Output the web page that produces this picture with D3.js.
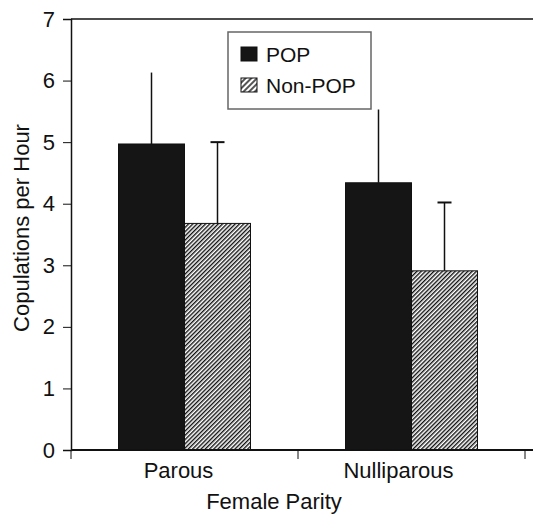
<!DOCTYPE html>
<html>
<head>
<meta charset="utf-8">
<script src="https://cdn.jsdelivr.net/npm/d3@7"></script>
<style>
  body { margin: 0; background: #fff; }
  svg { display: block; font-family: Arial, "Liberation Sans", sans-serif; }
</style>
</head>
<body>
<div class="chart"></div>
<script>
// data
var categories = ["Parous", "Nulliparous"];
var series = ["POP", "Non-POP"];
var means = [[4.97, 3.68], [4.34, 2.91]];
var errors = [[1.16, 1.32], [1.19, 1.11]];
var yTicks = [0, 1, 2, 3, 4, 5, 6, 7];

var w = 533;
var h = 515;

const svg = d3.select(".chart")
  .append("svg")
  .attr("width", w)
  .attr("height", h);

// hatch pattern for Non-POP
var defs = svg.append("defs");
defs.append("pattern")
  .attr("id", "hatch")
  .attr("patternUnits", "userSpaceOnUse")
  .attr("width", 3)
  .attr("height", 3)
  .attr("patternTransform", "rotate(45)")
  .append("rect")
  .attr("width", 1.4)
  .attr("height", 3)
  .attr("fill", "#111");
defs.append("pattern")
  .attr("id", "hatchLegend")
  .attr("patternUnits", "userSpaceOnUse")
  .attr("width", 4)
  .attr("height", 4)
  .attr("patternTransform", "rotate(45)")
  .append("rect")
  .attr("width", 2)
  .attr("height", 4)
  .attr("fill", "#555");

var x0 = d3.scaleBand()
  .domain(categories)
  .range([71, 525])
  .padding(0);

var x1 = d3.scaleBand()
  .domain(series)
  .range([47.5, 179.5])
  .padding(0);

var y = d3.scaleLinear()
  .domain([0, 7])
  .range([450, 19]);

var fills = { "POP": "#151515", "Non-POP": "url(#hatch)" };

// rows for bars
var rows = [];
categories.forEach(function(c, i) {
  series.forEach(function(s, j) {
    rows.push({ cat: c, ser: s, val: means[i][j], err: errors[i][j] });
  });
});

// top frame line
svg.append("line")
  .attr("x1", 71).attr("x2", w)
  .attr("y1", y(7)).attr("y2", y(7))
  .attr("stroke", "#111")
  .attr("stroke-width", 1.5);

// bars
svg.selectAll(".bar")
  .data(rows)
  .enter()
  .append("rect")
  .attr("class", "bar")
  .attr("x", d => x0(d.cat) + x1(d.ser))
  .attr("y", d => y(d.val))
  .attr("width", x1.bandwidth())
  .attr("height", d => y(0) - y(d.val))
  .attr("fill", d => fills[d.ser])
  .attr("stroke", "#111")
  .attr("stroke-width", 1);

// error bars
svg.selectAll(".err")
  .data(rows)
  .enter()
  .append("line")
  .attr("class", "err")
  .attr("x1", d => x0(d.cat) + x1(d.ser) + x1.bandwidth() / 2)
  .attr("x2", d => x0(d.cat) + x1(d.ser) + x1.bandwidth() / 2)
  .attr("y1", d => y(d.val))
  .attr("y2", d => y(d.val + d.err))
  .attr("stroke", "#111")
  .attr("stroke-width", 1.5);

svg.selectAll(".cap")
  .data(rows.filter(d => d.ser === "Non-POP"))
  .enter()
  .append("line")
  .attr("class", "cap")
  .attr("x1", d => x0(d.cat) + x1(d.ser) + x1.bandwidth() / 2 - 7)
  .attr("x2", d => x0(d.cat) + x1(d.ser) + x1.bandwidth() / 2 + 7)
  .attr("y1", d => y(d.val + d.err))
  .attr("y2", d => y(d.val + d.err))
  .attr("stroke", "#111")
  .attr("stroke-width", 2);

// y axis
var axisY = d3.axisLeft(y)
  .tickValues(yTicks)
  .tickFormat(d3.format("d"))
  .tickSize(8)
  .tickPadding(8);

var gy = svg.append("g")
  .attr("transform", "translate(71, 0)")
  .call(axisY);
gy.select(".domain").attr("stroke", "#111").attr("stroke-width", 1.5);
gy.selectAll(".tick line").attr("stroke", "#111").attr("stroke-width", 1);
gy.selectAll(".tick text")
  .attr("font-size", 22)
  .attr("font-family", "Arial, 'Liberation Sans', sans-serif")
  .attr("fill", "#111");

// x axis
var axisX = d3.axisBottom(x0)
  .tickSize(0)
  .tickPadding(12);

var gx = svg.append("g")
  .attr("transform", "translate(0, 450)")
  .call(axisX);
gx.select(".domain").remove();
gx.selectAll(".tick text")
  .attr("font-size", 22)
  .attr("font-family", "Arial, 'Liberation Sans', sans-serif")
  .attr("fill", "#111")
  .attr("dx", (d, i) => i === 0 ? -6 : -13);

svg.append("line")
  .attr("x1", 71).attr("x2", w)
  .attr("y1", y(0)).attr("y2", y(0))
  .attr("stroke", "#111")
  .attr("stroke-width", 2);

// boundary ticks between categories
var bounds = categories.map(c => x0(c)).concat([x0.range()[1]]);
svg.selectAll(".xtick")
  .data(bounds)
  .enter()
  .append("line")
  .attr("x1", d => d).attr("x2", d => d)
  .attr("y1", y(0)).attr("y2", y(0) + 9)
  .attr("stroke", "#111")
  .attr("stroke-width", 1);

// axis titles
svg.append("text")
  .attr("x", 274)
  .attr("y", 509)
  .attr("text-anchor", "middle")
  .attr("font-size", 22)
  .attr("fill", "#111")
  .text("Female Parity");

svg.append("text")
  .attr("transform", "translate(29, 228) rotate(-90)")
  .attr("text-anchor", "middle")
  .attr("font-size", 22)
  .attr("fill", "#111")
  .text("Copulations per Hour");

// legend
var legend = svg.append("g");
legend.append("rect")
  .attr("x", 228).attr("y", 32)
  .attr("width", 143).attr("height", 77)
  .attr("fill", "#fff")
  .attr("stroke", "#666")
  .attr("stroke-width", 1.5);

var legendFills = { "POP": "#151515", "Non-POP": "url(#hatchLegend)" };
series.forEach(function(s, i) {
  legend.append("rect")
    .attr("x", 241).attr("y", 47 + i * 31)
    .attr("width", 16).attr("height", 14)
    .attr("fill", legendFills[s])
    .attr("stroke", "#111")
    .attr("stroke-width", 1);
  legend.append("text")
    .attr("x", 266).attr("y", 61.5 + i * 31)
    .attr("font-size", 21)
    .attr("fill", "#111")
    .text(s);
});
</script>
</body>
</html>
